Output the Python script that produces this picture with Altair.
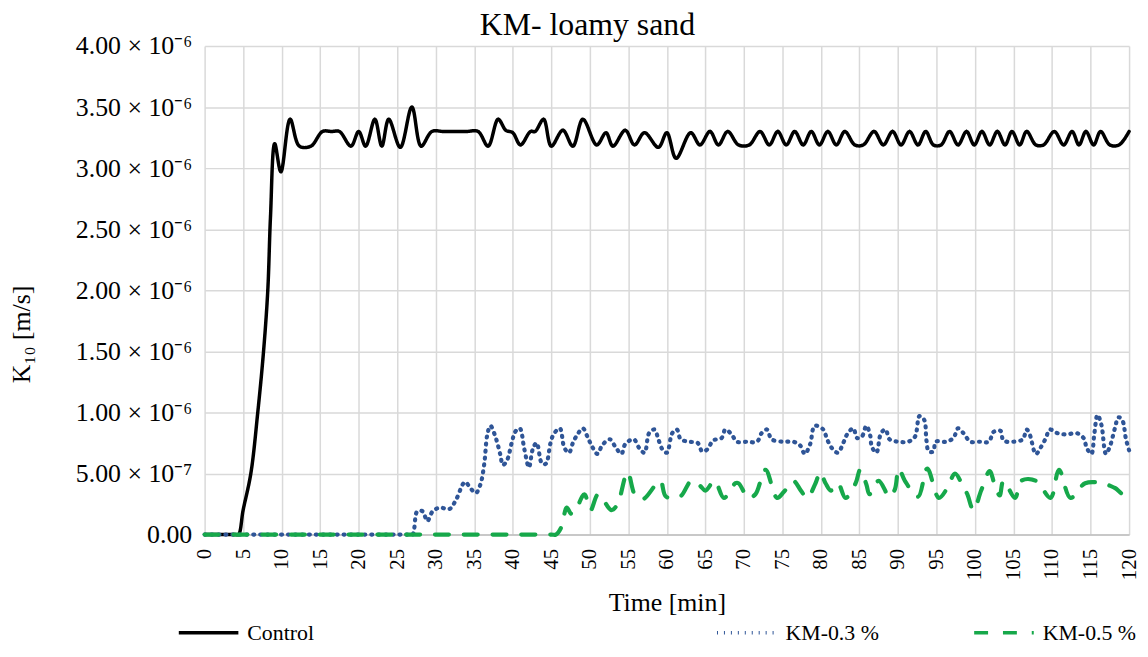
import altair as alt
import pandas as pd

# ---------------- data (K10 in units of 1e-6 m/s) ----------------
series_names = ["Control", "KM-0.3 %", "KM-0.5 %"]
series_colors = ["#000000", "#2F5597", "#16A84A"]

ctrl_t = [0, 1, 2, 3, 4, 4.4, 5.0, 6.0, 6.9, 7.65, 8.2, 8.55, 9.1, 9.9, 11.1, 12.3, 13.8,
          15.3, 16.5, 17.5, 19.0, 20.0, 20.9, 22.1, 23.0, 23.9, 25.4, 26.9, 28.1, 29.5,
          31, 32.5, 34, 35.5, 36.8, 38.1, 39.1, 40.0, 41.0, 42.3, 42.9, 44.0, 45.0, 46.5,
          47.8, 49.1, 50.9, 52.1, 53.0, 54.6, 55.8, 57.1, 58.9, 60.0, 61.2, 63.1, 64.3,
          65.6, 66.7, 67.9, 69.3, 70.7, 72.1, 73.3, 74.4, 75.5, 76.6, 77.7, 78.75, 79.8,
          80.9, 82.0, 83.1, 84.4, 85.5, 86.9, 88.1, 89.3, 90.4, 91.5, 92.6, 93.6, 94.6,
          95.6, 96.7, 97.8, 98.9, 99.9, 100.9, 101.9, 102.9, 103.9, 104.8, 105.8, 106.7,
          107.9, 108.9, 110.3, 111.5, 112.6, 113.5, 114.4, 115.4, 116.3, 117.5, 118.7, 120]
ctrl_v = [0, 0, 0, 0, 0, 0, 0.2, 0.5, 1.0, 1.5, 2.0, 2.6, 3.2, 2.97, 3.4, 3.18, 3.18,
          3.3, 3.3, 3.3, 3.18, 3.3, 3.18, 3.4, 3.18, 3.4, 3.17, 3.5, 3.18, 3.3,
          3.3, 3.3, 3.3, 3.3, 3.18, 3.4, 3.31, 3.29, 3.19, 3.3, 3.3, 3.4, 3.18, 3.31,
          3.18, 3.4, 3.19, 3.29, 3.18, 3.31, 3.19, 3.29, 3.17, 3.29, 3.08, 3.29, 3.19,
          3.3, 3.19, 3.3, 3.19, 3.19, 3.3, 3.19, 3.3, 3.19, 3.3, 3.19, 3.3, 3.19,
          3.3, 3.19, 3.3, 3.19, 3.19, 3.3, 3.19, 3.3, 3.19, 3.3, 3.19, 3.3, 3.19,
          3.19, 3.3, 3.19, 3.3, 3.19, 3.3, 3.19, 3.3, 3.19, 3.3, 3.19, 3.3,
          3.19, 3.19, 3.3, 3.19, 3.3, 3.19, 3.3, 3.19, 3.3, 3.19, 3.19, 3.3]

km03_t = [0, 5, 10, 15, 20, 25, 26.5, 27.0, 27.6, 28.3, 28.9, 29.6, 30.5, 31.8, 32.6, 33.8,
          34.5, 35.2, 35.8, 36.3, 36.7, 37.1, 37.7, 38.4, 38.7, 39.2, 39.9, 40.3, 40.9,
          41.5, 42.1, 42.6, 43.1, 43.8, 44.3, 44.9, 45.3, 46.1, 46.7, 47.3, 47.8, 48.4,
          49.1, 49.7, 50.3, 51.0, 51.6, 52.6, 53.3, 54.1, 54.6, 55.7, 56.4, 57.1, 57.7,
          58.4, 58.9, 59.4, 60.0, 60.7, 61.3, 61.8, 62.9, 64.0, 64.6, 65.3, 66.0, 67.1,
          67.6, 68.4, 69.1, 70.4, 71.7, 72.3, 73.0, 73.6, 75.1, 76.4, 77.3, 77.9, 78.6,
          79.2, 80.3, 80.8, 81.4, 82.2, 82.9, 83.4, 84.2, 84.7, 85.3, 85.9, 86.4, 86.6,
          87.2, 87.8, 88.4, 88.9, 90.0, 91.3, 92.2, 92.8, 93.4, 93.7, 94.0, 94.6, 94.9,
          96.2, 97.2, 97.8, 98.5, 99.4, 100.6, 101.8, 102.4, 103.3, 103.7, 105.0, 106.2,
          106.7, 107.1, 107.9, 108.5, 109.2, 109.7, 110.7, 111.9, 113.2, 114.1, 114.5,
          115.1, 115.5, 115.9, 116.4, 117.0, 117.5, 118.2, 118.6, 119.1, 119.6, 120.0]
km03_v = [0, 0, 0, 0, 0, 0, 0, 0.0, 0.19, 0.19, 0.11, 0.19, 0.22, 0.21, 0.28, 0.43,
          0.38, 0.34, 0.41, 0.58, 0.82, 0.89, 0.81, 0.65, 0.57, 0.60, 0.76, 0.84, 0.87,
          0.70, 0.55, 0.70, 0.75, 0.58, 0.58, 0.75, 0.82, 0.87, 0.71, 0.67, 0.75, 0.82,
          0.87, 0.80, 0.72, 0.66, 0.73, 0.78, 0.72, 0.66, 0.74, 0.78, 0.71, 0.67, 0.83,
          0.86, 0.78, 0.70, 0.67, 0.83, 0.86, 0.78, 0.76, 0.75, 0.68, 0.70, 0.77, 0.79,
          0.86, 0.82, 0.76, 0.76, 0.76, 0.83, 0.86, 0.78, 0.76, 0.76, 0.73, 0.66, 0.74,
          0.89, 0.86, 0.78, 0.71, 0.67, 0.75, 0.82, 0.87, 0.79, 0.80, 0.89, 0.81, 0.72,
          0.67, 0.83, 0.86, 0.78, 0.76, 0.76, 0.80, 0.97, 0.94, 0.77, 0.68, 0.68, 0.76,
          0.76, 0.79, 0.87, 0.83, 0.76, 0.76, 0.76, 0.84, 0.85, 0.77, 0.76, 0.78,
          0.86, 0.82, 0.66, 0.71, 0.79, 0.86, 0.83, 0.82, 0.83, 0.79, 0.71,
          0.66, 0.83, 0.98, 0.90, 0.66, 0.72, 0.88, 0.96, 0.94, 0.78, 0.69]

km05_t = [0, 5, 10, 15, 20, 25, 30, 35, 40, 45, 45.6, 46.3, 47.0, 47.6, 48.3, 49.3, 50.1,
          51.1, 52.8, 53.6, 54.9, 55.9, 56.9, 58.7, 59.2, 59.9, 61.7, 63.2, 64.3, 65.0,
          66.2, 67.4, 68.9, 69.3, 70.6, 71.5, 72.8, 74.3, 75.2, 76.4, 77.4, 78.2, 79.3,
          79.9, 80.6, 81.3, 82.2, 83.2, 84.5, 85.1, 85.9, 86.3, 87.5, 88.9, 89.6, 90.1,
          90.9, 92.6, 93.8, 95.3, 96.4, 97.4, 98.4, 99.0, 99.8, 100.8, 101.9, 102.5,
          103.2, 103.7, 105.2, 106.0, 107.9, 109.8, 110.9, 112.4, 114.3, 116.6, 117.5,
          118.2, 119.2, 120.0]
km05_v = [0, 0, 0, 0, 0, 0, 0, 0, 0, 0, 0, 0.06, 0.22, 0.17, 0.22, 0.33, 0.20,
          0.33, 0.20, 0.25, 0.51, 0.32, 0.29, 0.42, 0.44, 0.31, 0.31, 0.44, 0.40, 0.36,
          0.44, 0.30, 0.42, 0.42, 0.30, 0.33, 0.53, 0.30, 0.35, 0.44, 0.36, 0.30, 0.42,
          0.51, 0.42, 0.36, 0.42, 0.30, 0.42, 0.53, 0.41, 0.33, 0.44, 0.31, 0.37, 0.54,
          0.44, 0.31, 0.54, 0.30, 0.38, 0.50, 0.40, 0.33, 0.20, 0.36, 0.52, 0.42,
          0.32, 0.44, 0.30, 0.44, 0.44, 0.30, 0.53, 0.30, 0.42, 0.42, 0.40,
          0.38, 0.33, 0.33]

x_ticks = list(range(0, 121, 5))
y_ticks = [0, 0.5, 1.0, 1.5, 2.0, 2.5, 3.0, 3.5, 4.0]

rows = []
for name, ts, vs in zip(series_names, [ctrl_t, km03_t, km05_t], [ctrl_v, km03_v, km05_v]):
    for t, v in zip(ts, vs):
        rows.append({"series": name, "time": t, "k10": v})
df = pd.DataFrame(rows)

FONT = "Liberation Serif"
GRID = "#D9D9D9"

y_label_expr = (
    "datum.value == 0 ? '0.00' : (datum.value < 0.99 ? "
    "format(datum.value * 10, '.2f') + ' × 10⁻⁷' : "
    "format(datum.value, '.2f') + ' × 10⁻⁶')"
)

x_enc = alt.X(
    "time:Q", scale=alt.Scale(domain=[0, 120], nice=False),
    axis=alt.Axis(values=x_ticks, title="Time [min]", labelAngle=270, labelPadding=14,
                  ticks=False, grid=True, gridColor=GRID, gridWidth=1.5,
                  domainColor="#BFBFBF", domainWidth=1.5, labelFont=FONT,
                  labelFontSize=21, labelColor="black", titleFont=FONT,
                  titleFontSize=26, titleFontWeight="normal", titleColor="black",
                  titleY=69, titleBaseline="middle"))
y_enc = alt.Y(
    "k10:Q", scale=alt.Scale(domain=[0, 4], nice=False),
    axis=alt.Axis(values=y_ticks, labelExpr=y_label_expr, title="K₁₀ [m/s]",
                  ticks=False, domain=False, grid=True, gridColor=GRID, gridWidth=1.5,
                  labelPadding=13, labelFont=FONT, labelFontSize=26, labelColor="black",
                  titleFont=FONT, titleFontSize=26, titleFontWeight="normal",
                  titleColor="black", titleAngle=270, titleX=-184, titleY=290,
                  titleBaseline="middle", titleAlign="center"))


def legend_for(x, pad):
    return alt.Legend(
        title=None, orient="none", direction="horizontal", legendX=x, legendY=559,
        symbolType="stroke", symbolSize=3600, symbolStrokeWidth=3.5,
        labelFont=FONT, labelFontSize=22, labelColor="black", labelOffset=7,
        labelLimit=400, columnPadding=pad)


def series_layer(names, colors, dashes, width, legend_x, col_pad):
    sub = df[df["series"].isin(names)]
    leg = legend_for(legend_x, col_pad)
    return alt.Chart(sub).mark_line(
        interpolate="catmull-rom", strokeCap="round", strokeJoin="round",
        strokeWidth=width
    ).encode(
        x=x_enc, y=y_enc,
        color=alt.Color("series:N", scale=alt.Scale(domain=names, range=colors), legend=leg),
        strokeDash=alt.StrokeDash("series:N", scale=alt.Scale(domain=names, range=dashes),
                                  legend=leg),
    )


control_layer = series_layer(series_names[:1], series_colors[:1], [[1, 0]], 3.5,
                             -28, 20)
km_layer = series_layer(series_names[1:], series_colors[1:], [[1, 6], [14, 15]],
                        4.2, 514, 88)

chart = alt.layer(control_layer, km_layer).resolve_scale(
    color="independent", strokeDash="independent"
).resolve_legend(
    color="independent", strokeDash="independent"
).properties(
    width=931, height=492,
    title=alt.TitleParams("KM- loamy sand", font=FONT, fontSize=32, fontWeight="normal",
                          color="black", offset=8, dx=-80, dy=17, anchor="middle"),
    autosize=alt.AutoSizeParams(type="none"),
    padding={"left": 198, "top": 36, "right": 11, "bottom": 112},
).configure_view(stroke=None)

chart.save("out.html", embed_options={"renderer": "svg", "actions": False})
